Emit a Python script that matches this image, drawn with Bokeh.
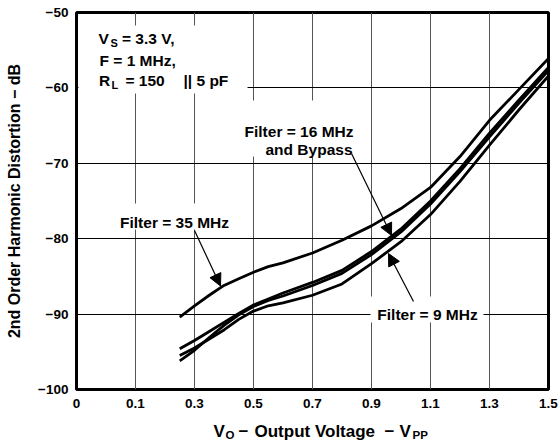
from bokeh.plotting import figure
from bokeh.layouts import column
from bokeh.models import FixedTicker, Label, Arrow, NormalHead, BoxAnnotation, Range1d
from bokeh.embed import file_html
from bokeh.resources import INLINE

# ---- data ----
vout = [0.25, 0.3, 0.35, 0.4, 0.45, 0.5, 0.55, 0.6, 0.7, 0.8, 0.9, 1.0, 1.1, 1.2, 1.3, 1.4, 1.5]
hd2_35mhz = [-90.4, -88.9, -87.5, -86.2, -85.3, -84.45, -83.7, -83.2, -81.9, -80.2, -78.3, -76.0, -73.2, -69.1, -64.3, -60.2, -56.1]
hd2_16mhz = [-94.6, -93.5, -92.3, -91.1, -89.9, -88.8, -88.0, -87.2, -85.8, -84.2, -81.7, -78.7, -75.0, -70.7, -66.0, -61.6, -57.3]
hd2_bypass = [-96.2, -94.8, -93.1, -91.5, -90.1, -89.0, -88.2, -87.6, -86.2, -84.6, -82.1, -79.1, -75.4, -71.1, -66.5, -62.0, -57.7]
hd2_9mhz = [-95.5, -94.5, -93.3, -92.1, -90.7, -89.6, -88.9, -88.5, -87.5, -86.0, -83.3, -80.4, -76.8, -72.4, -67.6, -62.9, -58.4]

x_tick_values = [-0.1, 0.1, 0.3, 0.5, 0.7, 0.9, 1.1, 1.3, 1.5]
x_tick_labels = ["0", "0.1", "0.3", "0.5", "0.7", "0.9", "1.1", "1.3", "1.5"]
y_tick_values = [-100, -90, -80, -70, -60, -50]
y_tick_labels = ["\u2212100", "\u221290", "\u221280", "\u221270", "\u221260", "\u221250"]
y_title = "2nd Order Harmonic Distortion \u2212 dB"

FONT = "Liberation Sans"

p = figure(width=558, height=412, x_range=Range1d(-0.1, 1.5), y_range=Range1d(-100, -50),
           output_backend="svg", toolbar_location=None,
           min_border_left=76, min_border_right=10, min_border_top=12, min_border_bottom=23)
p.title.visible = False
p.background_fill_color = "white"
p.border_fill_color = "white"
p.outline_line_color = "black"
p.outline_line_width = 3
p.outline_line_alpha = 1

for ax, vals, labs, standoff in ((p.xaxis[0], x_tick_values, x_tick_labels, 9),
                                 (p.yaxis[0], y_tick_values, y_tick_labels, 8)):
    ax.ticker = FixedTicker(ticks=vals)
    ax.major_label_overrides = {v: l for v, l in zip(vals, labs)}
    ax.axis_line_color = None
    ax.major_tick_line_color = None
    ax.minor_tick_line_color = None
    ax.major_tick_out = 0
    ax.major_tick_in = 0
    ax.minor_tick_out = 0
    ax.minor_tick_in = 0
    ax.major_label_standoff = standoff
    ax.major_label_text_font = FONT
    ax.major_label_text_font_style = "bold"
    ax.major_label_text_font_size = "13.5px"
    ax.major_label_text_color = "black"

p.yaxis.axis_label = y_title
p.yaxis.axis_label_text_font = FONT
p.yaxis.axis_label_text_font_style = "bold"
p.yaxis.axis_label_text_font_size = "16px"
p.yaxis.axis_label_text_color = "black"
p.yaxis.axis_label_standoff = 12

p.xgrid.ticker = FixedTicker(ticks=x_tick_values)
p.ygrid.ticker = FixedTicker(ticks=y_tick_values)
p.xgrid.grid_line_color = "#555555"
p.ygrid.grid_line_color = "black"
p.xgrid.grid_line_alpha = 1
p.ygrid.grid_line_alpha = 1
p.xgrid.grid_line_width = 1
p.ygrid.grid_line_width = 1

for ys in (hd2_35mhz, hd2_16mhz, hd2_bypass, hd2_9mhz):
    p.line(vout, ys, line_color="black", line_width=2.8)


# layout helpers: reference-pixel position -> data coordinates (annotations only)
def fx(px):
    return -0.1 + (px - 76) * 1.6 / 472


def fy(py):
    return -50 - (py - 12) * 50 / 377


def box(l, r, t, b):
    p.add_layout(BoxAnnotation(left=fx(l), right=fx(r), top=fy(t), bottom=fy(b),
                               fill_color="white", fill_alpha=1, line_color=None))


def lab(fig, text, x, y, size="15.5px", align="left"):
    fig.add_layout(Label(x=x, y=y, text=text, text_font=FONT, text_font_style="bold",
                         text_font_size=size, text_color="black", text_align=align,
                         text_baseline="alphabetic"))


def plab(text, px, py, size="15.5px", align="left"):
    lab(p, text, fx(px), fy(py), size, align)


def arrow(x0, y0, x1, y1):
    p.add_layout(Arrow(end=NormalHead(size=12, fill_color="black", line_color="black", line_width=1),
                       x_start=fx(x0), y_start=fy(y0), x_end=fx(x1), y_end=fy(y1),
                       line_color="black", line_width=1.2))


# white backgrounds behind annotation texts
box(78, 247, 25, 93)
box(113, 235, 203, 229)
box(250, 358, 100, 156)
box(370, 483, 296, 322)

# condition block
plab("V", 98, 37.5)
plab("S", 110, 42, size="11px")
plab("= 3.3 V,", 121.5, 37.5)
plab("F = 1 MHz,", 99, 59.5)
plab("R", 98.5, 80)
plab("L", 111, 84.5, size="11px")
plab("= 150", 125, 80)
plab("|| 5 pF", 183, 80)

# curve labels
plab("Filter = 35 MHz", 174, 221.5, align="center")
plab("Filter = 16 MHz", 353, 131, align="right")
plab("and Bypass", 352, 149, align="right")
plab("Filter = 9 MHz", 427, 314, align="center")

arrow(194, 230, 220, 285.5)
arrow(351, 153, 391, 235)
arrow(413, 301, 388, 253)

# x axis title strip (with subscripts); its frame is aligned with the main frame (x 76..548)
STRIP_H = 31
xt = figure(width=558, height=STRIP_H, x_range=Range1d(76, 548), y_range=Range1d(0, STRIP_H),
            output_backend="svg", toolbar_location=None, x_axis_location=None,
            y_axis_location=None, min_border=0)
xt.title.visible = False
xt.outline_line_color = None
xt.grid.visible = False
xt.background_fill_color = "white"
xt.border_fill_color = "white"

base, sub = 12.5, 8.5
lab(xt, "V", 213, base, size="17px")
lab(xt, "O", 225, sub, size="11.5px")
lab(xt, "\u2212", 238, base, size="17px")
lab(xt, "Output Voltage", 254, base, size="17px")
lab(xt, "\u2212", 384, base, size="17px")
lab(xt, "V", 399, base, size="17px")
lab(xt, "PP", 412, sub, size="11.5px")

layout = column(p, xt, spacing=0)
open("out.html", "w").write(file_html(layout, INLINE))
